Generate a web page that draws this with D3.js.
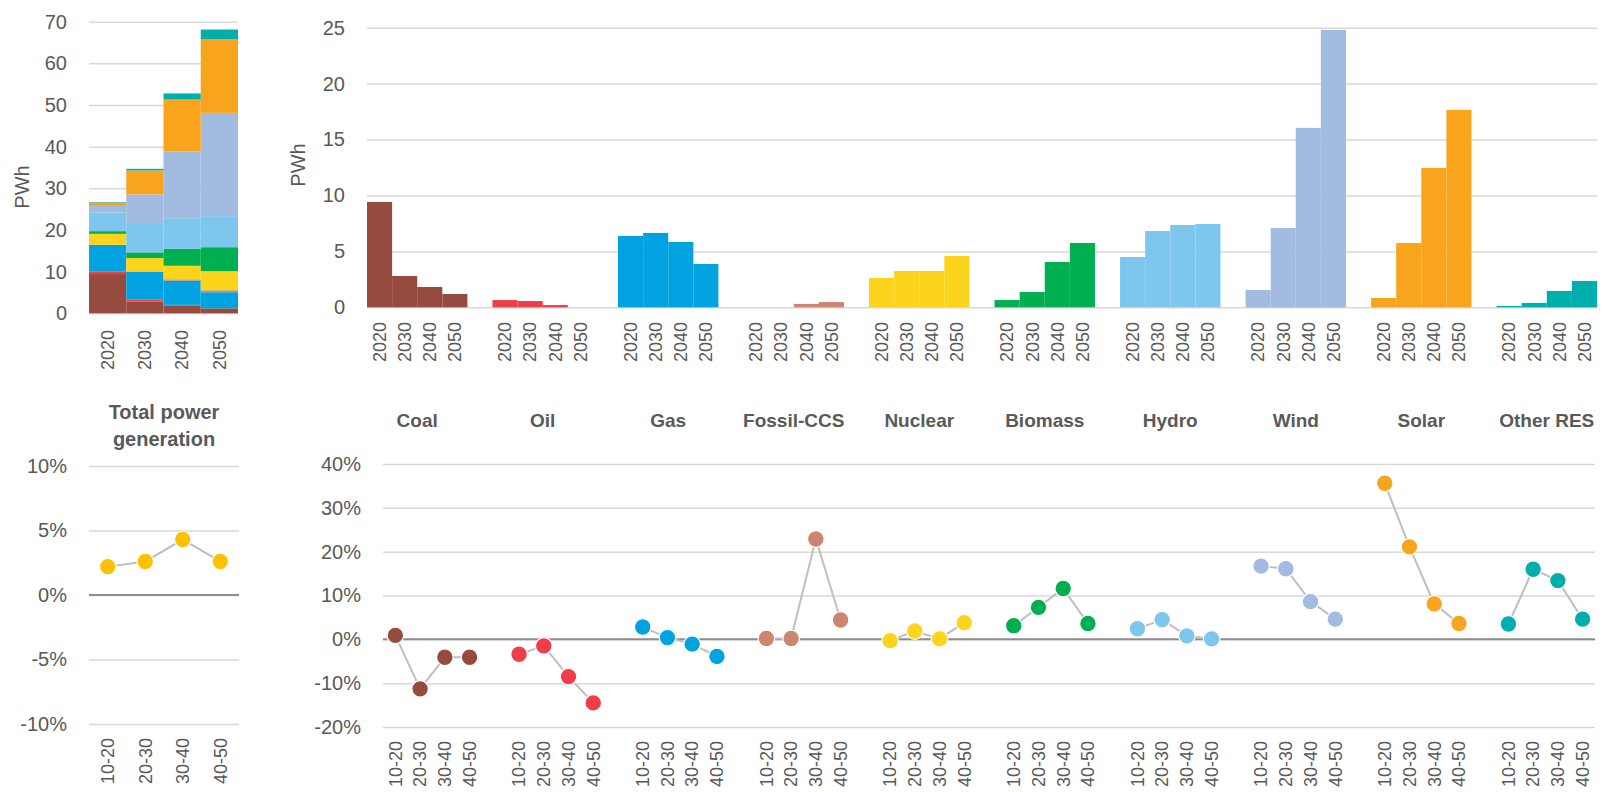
<!DOCTYPE html>
<html>
<head>
<meta charset="utf-8">
<script src="https://cdn.jsdelivr.net/npm/d3@7"></script>
<style>
  body { margin: 0; background: #fff; }
  svg text { font-family: "Liberation Sans", Arial, sans-serif; fill: #595959; }
</style>
</head>
<body>
<svg id="chart" width="1603" height="792"></svg>
<script>
// categories
const years = ["2020", "2030", "2040", "2050"];
const periods = ["10-20", "20-30", "30-40", "40-50"];
const techs = ["Coal", "Oil", "Gas", "Fossil-CCS", "Nuclear", "Biomass", "Hydro", "Wind", "Solar", "Other RES"];
const techColors = ["#954B3D", "#EF3E4A", "#00A3E0", "#CC8571", "#FDD41C", "#00AF50", "#7DC6EE", "#A2BBE1", "#F8A51D", "#00AEAB"];

// power generation, PWh (2020, 2030, 2040, 2050)
const genCoal = [9.42, 2.80, 1.82, 1.19];
const genOil = [0.65, 0.56, 0.20, 0.0];
const genGas = [6.38, 6.65, 5.84, 3.87];
const genFossilCCS = [0, 0, 0.30, 0.47];
const genNuclear = [2.62, 3.25, 3.25, 4.59];
const genBiomass = [0.65, 1.37, 4.05, 5.75];
const genHydro = [4.50, 6.82, 7.36, 7.45];
const genWind = [1.55, 7.09, 16.04, 24.80];
const genSolar = [0.83, 5.75, 12.46, 17.65];
const genOther = [0.12, 0.39, 1.46, 2.35];

// annual growth rates, % (10-20, 20-30, 30-40, 40-50)
const grCoal = [0.9, -11.3, -4.1, -4.1];
const grOil = [-3.4, -1.5, -8.5, -14.5];
const grGas = [2.8, 0.4, -1.1, -3.9];
const grFossilCCS = [0.2, 0.2, 22.9, 4.4];
const grNuclear = [-0.3, 1.9, 0.1, 3.8];
const grBiomass = [3.1, 7.3, 11.6, 3.6];
const grHydro = [2.4, 4.5, 0.8, 0.1];
const grWind = [16.7, 16.1, 8.6, 4.6];
const grSolar = [35.6, 21.1, 8.1, 3.6];
const grOther = [3.5, 16.0, 13.4, 4.6];
const grTotal = [2.2, 2.6, 4.3, 2.6];

const totalColor = "#FFC000";
const genTicks = [0, 10, 20, 30, 40, 50, 60, 70];
const genTechTicks = [0, 5, 10, 15, 20, 25];
const grTotalTicks = [-10, -5, 0, 5, 10];
const grTechTicks = [-20, -10, 0, 10, 20, 30, 40];

const generation = [genCoal, genOil, genGas, genFossilCCS, genNuclear, genBiomass, genHydro, genWind, genSolar, genOther];
const growth = [grCoal, grOil, grGas, grFossilCCS, grNuclear, grBiomass, grHydro, grWind, grSolar, grOther];

const svg = d3.select("#chart");
const gridColor = "#D9D9D9";

function yGrid(y, x0, x1, ticks, fmt) {
  const g = svg.append("g").attr("transform", `translate(${x0},0)`);
  g.call(d3.axisLeft(y).tickValues(ticks).tickFormat(fmt).tickSize(-(x1 - x0)).tickPadding(22));
  g.select(".domain").remove();
  g.selectAll(".tick line").attr("stroke", gridColor).attr("stroke-width", 1.5);
  g.selectAll(".tick text").attr("fill", "#595959").style("font-size", "20px");
  return g;
}

function xLabels(labels, xpos, yTop, size) {
  svg.append("g").selectAll("text")
    .data(labels)
    .join("text")
    .attr("transform", d => `translate(${xpos(d.x)},${yTop}) rotate(-90)`)
    .attr("text-anchor", "end")
    .attr("dy", "0.35em")
    .style("font-size", size + "px")
    .text(d => d.t);
}

// ---------- top-left: stacked total ----------
const xYear = d3.scaleBand().domain(years).range([89, 238]).padding(0);
const yGen = d3.scaleLinear().domain([0, 70]).range([313.3, 21.7]);
yGrid(yGen, 89, 238, genTicks, d => d);

const rows = years.map((yr, i) => {
  const r = { year: yr };
  techs.forEach((t, k) => { r[t] = generation[k][i]; });
  return r;
});
const stacked = d3.stack().keys(techs)(rows);
svg.append("g").selectAll("g")
  .data(stacked)
  .join("g")
  .attr("fill", (d, i) => techColors[i])
  .selectAll("rect")
  .data(d => d)
  .join("rect")
  .attr("x", d => xYear(d.data.year))
  .attr("width", xYear.bandwidth())
  .attr("y", d => yGen(d[1]))
  .attr("height", d => Math.max(0, yGen(d[0]) - yGen(d[1])));

xLabels(years.map(y => ({ x: y, t: y })), d => xYear(d) + xYear.bandwidth() / 2, 330, 18);

svg.append("text")
  .attr("transform", `translate(22,187) rotate(-90)`)
  .attr("text-anchor", "middle").attr("dy", "0.35em")
  .style("font-size", "20px").text("PWh");

// ---------- top-right: by technology ----------
const xTechTop = d3.scaleBand().domain(techs).range([367, 1597]).paddingInner(0.2).paddingOuter(0);
const xYearTop = d3.scaleBand().domain(years).range([0, xTechTop.bandwidth()]).padding(0);
const yTech = d3.scaleLinear().domain([0, 25]).range([307.3, 27.7]);
yGrid(yTech, 367, 1597, genTechTicks, d => d);

techs.forEach((t, k) => {
  svg.append("g").selectAll("rect")
    .data(years.map((yr, i) => ({ yr, v: generation[k][i] })))
    .join("rect")
    .attr("x", d => xTechTop(t) + xYearTop(d.yr))
    .attr("width", xYearTop.bandwidth())
    .attr("y", d => yTech(d.v))
    .attr("height", d => yTech(0) - yTech(d.v))
    .attr("fill", techColors[k]);
});

const topLabels = [];
techs.forEach(t => years.forEach(yr => topLabels.push({ x: [t, yr], t: yr })));
xLabels(topLabels, d => xTechTop(d[0]) + xYearTop(d[1]) + xYearTop.bandwidth() / 2, 322, 18);

svg.append("text")
  .attr("transform", `translate(298,165) rotate(-90)`)
  .attr("text-anchor", "middle").attr("dy", "0.35em")
  .style("font-size", "20px").text("PWh");

// group names
svg.append("g").selectAll("text")
  .data(techs)
  .join("text")
  .attr("x", t => xTechTop(t) + xTechTop.bandwidth() / 2)
  .attr("y", 427)
  .attr("text-anchor", "middle")
  .style("font-size", "19px").style("font-weight", "bold")
  .text(t => t);

// ---------- bottom-left: total growth ----------
const xPer = d3.scaleBand().domain(periods).range([89, 239]).padding(0);
const yGrTotal = d3.scaleLinear().domain([-10, 10]).range([724, 466]);
yGrid(yGrTotal, 89, 239, grTotalTicks, d => d + "%");
svg.append("line")
  .attr("x1", 89).attr("x2", 239)
  .attr("y1", yGrTotal(0)).attr("y2", yGrTotal(0))
  .attr("stroke", "#8C8C8C").attr("stroke-width", 2);

svg.append("text").attr("x", 164).attr("y", 419).attr("text-anchor", "middle")
  .style("font-size", "20px").style("font-weight", "bold").text("Total power");
svg.append("text").attr("x", 164).attr("y", 446).attr("text-anchor", "middle")
  .style("font-size", "20px").style("font-weight", "bold").text("generation");

const totPts = periods.map((p, i) => ({ x: xPer(p) + xPer.bandwidth() / 2, y: yGrTotal(grTotal[i]) }));
svg.append("path")
  .attr("d", d3.line().x(d => d.x).y(d => d.y)(totPts))
  .attr("fill", "none").attr("stroke", "#BFBFBF").attr("stroke-width", 2);
svg.append("g").selectAll("circle")
  .data(totPts).join("circle")
  .attr("cx", d => d.x).attr("cy", d => d.y).attr("r", 8.3)
  .attr("fill", totalColor).attr("stroke", "#fff").attr("stroke-width", 1.2);

xLabels(periods.map(p => ({ x: p, t: p })), d => xPer(d) + xPer.bandwidth() / 2, 738, 18);

// ---------- bottom-right: growth by technology ----------
const xTechBot = d3.scaleBand().domain(techs).range([383, 1595]).paddingInner(0.2).paddingOuter(0);
const xPerBot = d3.scaleBand().domain(periods).range([0, xTechBot.bandwidth()]).padding(0);
const yGr = d3.scaleLinear().domain([-20, 40]).range([727, 464]);
yGrid(yGr, 383, 1595, grTechTicks, d => d + "%");
svg.append("line")
  .attr("x1", 383).attr("x2", 1595)
  .attr("y1", yGr(0)).attr("y2", yGr(0))
  .attr("stroke", "#8C8C8C").attr("stroke-width", 2);

techs.forEach((t, k) => {
  const pts = periods.map((p, i) => ({ x: xTechBot(t) + xPerBot(p) + xPerBot.bandwidth() / 2, y: yGr(growth[k][i]) }));
  svg.append("path")
    .attr("d", d3.line().x(d => d.x).y(d => d.y)(pts))
    .attr("fill", "none").attr("stroke", "#BFBFBF").attr("stroke-width", 2);
  svg.append("g").selectAll("circle")
    .data(pts).join("circle")
    .attr("cx", d => d.x).attr("cy", d => d.y).attr("r", 8.3)
    .attr("fill", techColors[k]).attr("stroke", "#fff").attr("stroke-width", 1.2);
});

const botLabels = [];
techs.forEach(t => periods.forEach(p => botLabels.push({ x: [t, p], t: p })));
xLabels(botLabels, d => xTechBot(d[0]) + xPerBot(d[1]) + xPerBot.bandwidth() / 2, 741, 18);
</script>
</body>
</html>
